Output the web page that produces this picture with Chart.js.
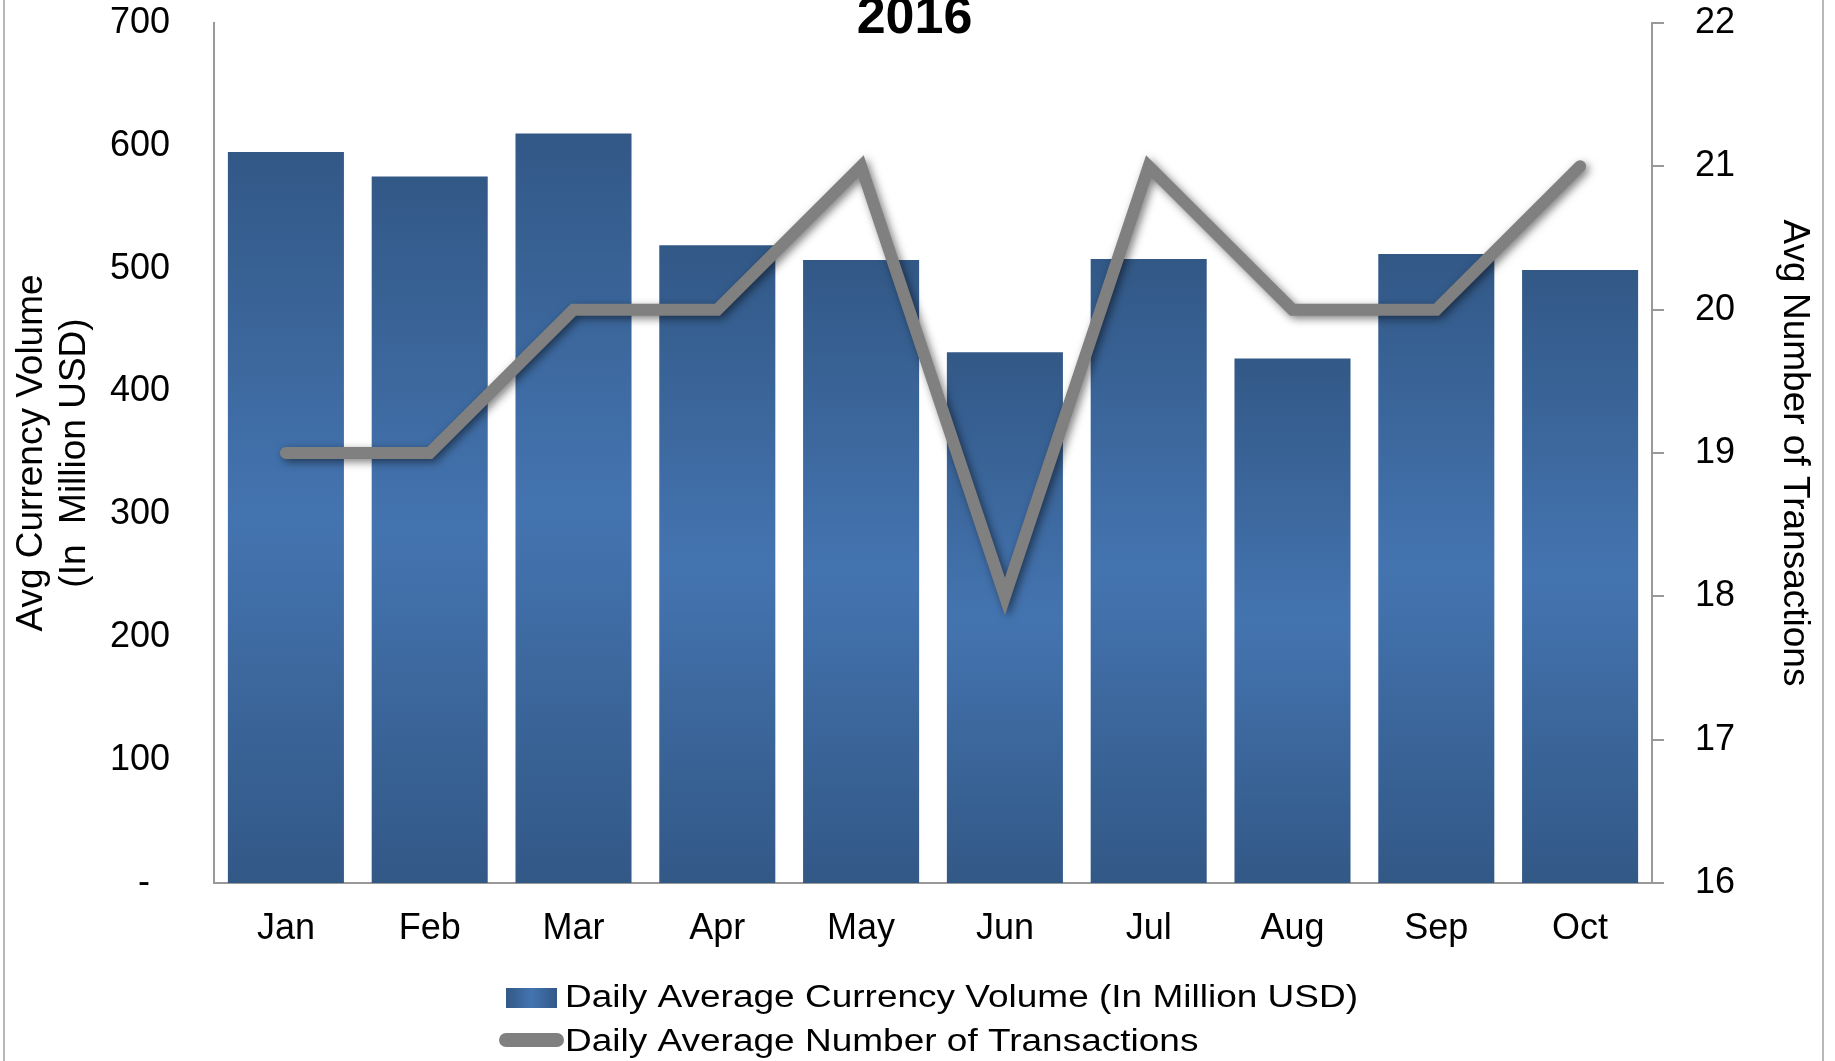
<!DOCTYPE html>
<html>
<head>
<meta charset="utf-8">
<script src="https://cdn.jsdelivr.net/npm/chart.js@4"></script>
<style>
  html, body { margin: 0; padding: 0; background: #ffffff; }
  #wrap { width: 1835px; height: 1061px; position: relative; }
</style>
</head>
<body>
<div id="wrap"><canvas id="c" width="1835" height="1061"></canvas></div>
<script>
// ---- data ----
const chartTitle = '2016';
const months = ['Jan', 'Feb', 'Mar', 'Apr', 'May', 'Jun', 'Jul', 'Aug', 'Sep', 'Oct'];
const volumeLabel = 'Daily Average Currency Volume (In Million USD)';
const volumeValues = [595, 575, 610, 519, 507, 432, 508, 427, 512, 499];
const txLabel = 'Daily Average Number of Transactions';
const txValues = [19, 19, 20, 20, 21, 18, 21, 20, 20, 21];
const leftTitle = ['Avg Currency Volume', '(In  Million USD)'];
const rightTitle = 'Avg Number of Transactions';
const leftTicks = { min: 0, max: 700, step: 100 };
const rightTicks = { min: 16, max: 22, step: 1 };

const FONT = "'Liberation Sans', Arial, sans-serif";
const DARK = '#325886';
const LIGHT = '#4474b0';
const AXIS = '#999999';

function barGradient(ctx) {
  const chart = ctx.chart;
  if (!chart.chartArea || ctx.type !== 'data') return LIGHT;
  const ys = chart.scales.y;
  const top = ys.getPixelForValue(ctx.raw);
  const bottom = ys.getPixelForValue(0);
  const g = chart.ctx.createLinearGradient(0, top, 0, bottom);
  g.addColorStop(0, DARK);
  g.addColorStop(0.5, LIGHT);
  g.addColorStop(1, DARK);
  return g;
}

const decor = {
  id: 'decor',
  beforeDraw(chart) {
    const c = chart.ctx;
    c.save();
    c.fillStyle = '#ffffff';
    c.fillRect(0, 0, chart.width, chart.height);
    c.strokeStyle = '#a0a0a0';
    c.lineWidth = 1.5;
    c.beginPath();
    c.moveTo(4, 0); c.lineTo(4, chart.height);
    c.moveTo(chart.width - 12, 0); c.lineTo(chart.width - 12, chart.height);
    c.stroke();
    c.restore();
  },
  beforeDatasetDraw(chart, args) {
    if (chart.data.datasets[args.index].type === 'line') {
      const c = chart.ctx;
      c.save();
      c.shadowColor = 'rgba(0,0,0,0.5)';
      c.shadowBlur = 8;
      c.shadowOffsetX = 3;
      c.shadowOffsetY = 3;
    }
  },
  afterDatasetDraw(chart, args) {
    if (chart.data.datasets[args.index].type === 'line') {
      chart.ctx.restore();
    }
  },
  afterDraw(chart) {
    const c = chart.ctx;
    c.save();
    // title
    c.fillStyle = '#000000';
    c.font = 'bold 52px ' + FONT;
    c.textAlign = 'center';
    c.textBaseline = 'alphabetic';
    c.fillText(chartTitle, chart.width / 2 - 3, 33);

    // legend
    const sx = 506, sw = 51;
    const g = c.createLinearGradient(sx, 0, sx + sw, 0);
    g.addColorStop(0, DARK); g.addColorStop(0.5, LIGHT); g.addColorStop(1, DARK);
    c.fillStyle = g;
    c.fillRect(sx, 988, sw, 20);
    c.strokeStyle = '#808080';
    c.lineWidth = 14;
    c.lineCap = 'round';
    c.beginPath();
    c.moveTo(sx, 1040); c.lineTo(sx + sw, 1040);
    c.stroke();
    c.fillStyle = '#000000';
    c.font = '37px ' + FONT;
    c.textAlign = 'left';
    const rows = [[chart.data.datasets[0].label, 1007], [chart.data.datasets[1].label, 1051]];
    rows.forEach(([t, base]) => {
      c.save();
      c.translate(565, base);
      c.scale(1, 0.84);
      c.fillText(t, 0, 0);
      c.restore();
    });
    c.restore();
  }
};

function noPad(s) {
  s.paddingTop = 0; s.paddingBottom = 0;
}

new Chart(document.getElementById('c'), {
  data: {
    labels: months,
    datasets: [
      {
        type: 'bar',
        label: volumeLabel,
        data: volumeValues,
        yAxisID: 'y',
        backgroundColor: barGradient,
        borderWidth: 0,
        categoryPercentage: 1.0,
        barPercentage: 0.807,
        order: 1
      },
      {
        type: 'line',
        label: txLabel,
        data: txValues,
        yAxisID: 'y1',
        borderColor: '#808080',
        backgroundColor: '#808080',
        borderWidth: 12,
        borderCapStyle: 'round',
        borderJoinStyle: 'miter',
        pointRadius: 0,
        pointHoverRadius: 0,
        tension: 0,
        fill: false,
        order: 0
      }
    ]
  },
  options: {
    responsive: false,
    animation: false,
    devicePixelRatio: 1,
    layout: { padding: { top: 23, left: 0, right: 0, bottom: 0 } },
    plugins: {
      legend: { display: false },
      title: { display: false },
      tooltip: { enabled: false }
    },
    scales: {
      x: {
        offset: true,
        grid: { display: false, drawTicks: false },
        border: { display: true, color: AXIS, width: 2 },
        ticks: { color: '#000', font: { family: FONT, size: 36 }, padding: 24, maxRotation: 0, autoSkip: false },
        afterFit(s) { s.height = 178; s.paddingLeft = 0; s.paddingRight = 0; }
      },
      y: {
        position: 'left',
        min: leftTicks.min, max: leftTicks.max,
        grid: { display: false, drawTicks: false },
        border: { display: true, color: AXIS, width: 2 },
        ticks: {
          stepSize: leftTicks.step,
          color: '#000',
          font: { family: FONT, size: 36 },
          padding: 44,
          callback: (v) => v === 0 ? '-  ' : String(v)
        },
        title: {
          display: true,
          text: leftTitle,
          color: '#000',
          font: { family: FONT, size: 37, lineHeight: 1.16 },
          padding: { top: 10.5, bottom: 0 }
        },
        afterFit(s) { s.width = 214; noPad(s); }
      },
      y1: {
        position: 'right',
        min: rightTicks.min, max: rightTicks.max,
        grid: { display: true, drawOnChartArea: false, drawTicks: true, tickLength: 12, color: AXIS, lineWidth: 2 },
        border: { display: true, color: AXIS, width: 2 },
        ticks: {
          stepSize: rightTicks.step,
          color: '#000',
          font: { family: FONT, size: 36 },
          padding: 31
        },
        title: {
          display: true,
          text: rightTitle,
          color: '#000',
          font: { family: FONT, size: 37, lineHeight: 1.16 },
          padding: { top: 19.5, bottom: 0 }
        },
        afterFit(s) { s.width = 183; noPad(s); }
      }
    }
  },
  plugins: [decor]
});
</script>
</body>
</html>
